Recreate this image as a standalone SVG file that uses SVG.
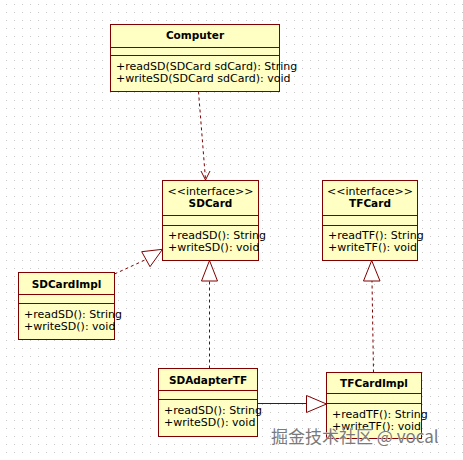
<svg xmlns="http://www.w3.org/2000/svg" width="463" height="460" viewBox="0 0 463 460">
<defs>
<pattern id="grid" x="0" y="0" width="8" height="8" patternUnits="userSpaceOnUse">
<rect x="6" y="4" width="1" height="1" fill="#c8c8c8"/>
</pattern>
<style>
.box{fill:#ffffc4;stroke:#800000;stroke-width:1}
.sep{stroke:#800000;stroke-width:1}
.t{font-family:"DejaVu Sans","Liberation Sans",sans-serif;font-size:11px;fill:#000}
.b{font-weight:bold;text-anchor:middle;font-size:10.5px}
.c{text-anchor:middle}
.ln{fill:none;stroke:#800000;stroke-width:1}
.dash{stroke-dasharray:3,3}
.tri{fill:#fff;stroke:#800000;stroke-width:1}
.wm{font-family:"Noto Sans CJK SC","Liberation Sans",sans-serif;font-size:17px;fill:#7a7a7a;stroke:#fff;stroke-width:0.6;paint-order:stroke}
</style>
</defs>
<rect width="463" height="460" fill="#fff"/>
<rect width="463" height="460" fill="url(#grid)"/>

<g id="connectors">
<path class="ln dash" d="M198.5,91.5 L205.5,179.5"/>
<path class="ln" d="M201,171 L205.5,180 L210,171"/>
<path class="ln dash" d="M114.5,274 L146,259.5"/>
<polygon class="tri" points="141.7,251.7 150,266.7 162.5,249.3"/>
<path class="ln dash" d="M209.5,368.5 L209.5,281"/>
<polygon class="tri" points="201.5,281 217.5,281 209.5,260.5"/>
<path class="ln dash" d="M373.5,372.5 L372,281"/>
<polygon class="tri" points="363.5,281 380,281 371.7,260.5"/>
<path class="ln" d="M257.5,403.5 L306.5,403.5"/>
<polygon class="tri" points="306.5,395.5 306.5,412.5 326.5,404"/>
</g>

<g id="Computer">
<rect class="box" x="110.5" y="24.5" width="169" height="67"/>
<line class="sep" x1="110.5" y1="47.5" x2="279.5" y2="47.5"/>
<line class="sep" x1="110.5" y1="55.5" x2="279.5" y2="55.5"/>
<text class="t b" x="195" y="39">Computer</text>
<text class="t" x="116" y="70">+readSD(SDCard sdCard): String</text>
<text class="t" x="116" y="82">+writeSD(SDCard sdCard): void</text>
</g>

<g id="SDCard">
<rect class="box" x="162.5" y="180.5" width="96" height="80"/>
<line class="sep" x1="162.5" y1="215.5" x2="258.5" y2="215.5"/>
<line class="sep" x1="162.5" y1="225.5" x2="258.5" y2="225.5"/>
<text class="t c" x="210.5" y="195">&lt;&lt;interface&gt;&gt;</text>
<text class="t b" x="210.5" y="207">SDCard</text>
<text class="t" x="168" y="239">+readSD(): String</text>
<text class="t" x="168" y="251">+writeSD(): void</text>
</g>

<g id="TFCard">
<rect class="box" x="322.5" y="180.5" width="95" height="80"/>
<line class="sep" x1="322.5" y1="215.5" x2="417.5" y2="215.5"/>
<line class="sep" x1="322.5" y1="225.5" x2="417.5" y2="225.5"/>
<text class="t c" x="370" y="195">&lt;&lt;interface&gt;&gt;</text>
<text class="t b" x="370" y="207">TFCard</text>
<text class="t" x="328" y="239">+readTF(): String</text>
<text class="t" x="328" y="251">+writeTF(): void</text>
</g>

<g id="SDCardImpl">
<rect class="box" x="18.5" y="272.5" width="96" height="67"/>
<line class="sep" x1="18.5" y1="294.5" x2="114.5" y2="294.5"/>
<line class="sep" x1="18.5" y1="303.5" x2="114.5" y2="303.5"/>
<text class="t b" x="66.5" y="288">SDCardImpl</text>
<text class="t" x="24" y="317.5">+readSD(): String</text>
<text class="t" x="24" y="330">+writeSD(): void</text>
</g>

<g id="SDAdapterTF">
<rect class="box" x="158.5" y="368.5" width="99" height="68"/>
<line class="sep" x1="158.5" y1="390.5" x2="257.5" y2="390.5"/>
<line class="sep" x1="158.5" y1="399.5" x2="257.5" y2="399.5"/>
<text class="t b" x="208" y="384">SDAdapterTF</text>
<text class="t" x="164" y="413.5">+readSD(): String</text>
<text class="t" x="164" y="426">+writeSD(): void</text>
</g>

<g id="TFCardImpl">
<rect class="box" x="326.5" y="372.5" width="95" height="66"/>
<line class="sep" x1="326.5" y1="393.5" x2="421.5" y2="393.5"/>
<line class="sep" x1="326.5" y1="403.5" x2="421.5" y2="403.5"/>
<text class="t b" x="374" y="387">TFCardImpl</text>
<text class="t" x="332" y="417.5">+readTF(): String</text>
<text class="t" x="332" y="430">+writeTF(): void</text>
</g>

<text class="wm" x="271" y="443">掘金技术社区 @ vocal</text>
</svg>
